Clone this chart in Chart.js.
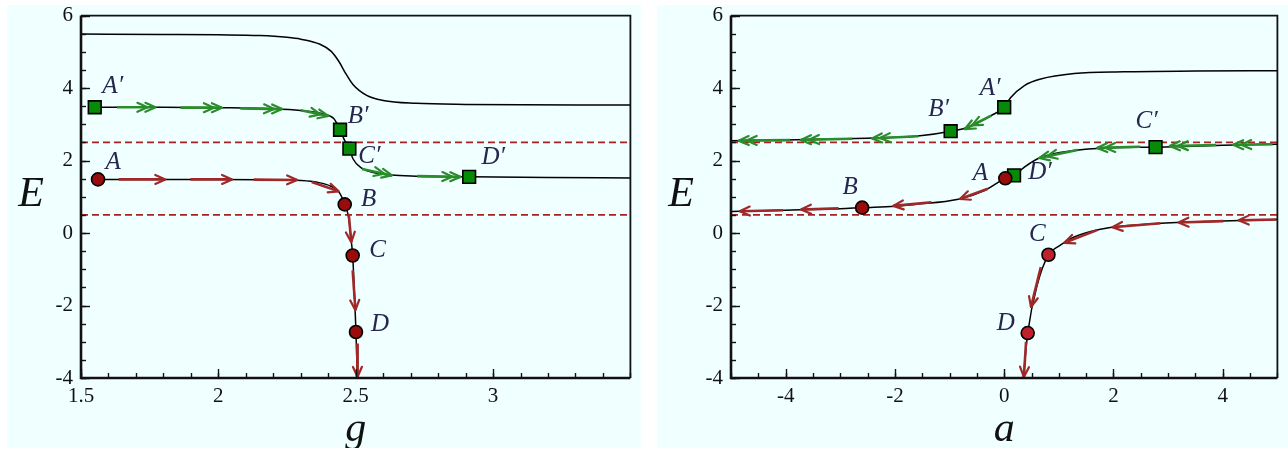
<!DOCTYPE html>
<html>
<head>
<meta charset="utf-8">
<script src="https://cdn.jsdelivr.net/npm/chart.js@4.4.1/dist/chart.umd.min.js"></script>
<style>
  html, body { margin: 0; padding: 0; background: #fff; }
  body { width: 1288px; height: 449px; position: relative; overflow: hidden; }
  .panel { position: absolute; top: 5px; height: 443px; background: #f0ffff; }
  #leftPanel { left: 7px; width: 634px; }
  #rightPanel { left: 657px; width: 631px; }
  canvas { display: block; }
</style>
</head>
<body>
<div class="panel" id="leftPanel"><canvas id="chartG" width="634" height="443"></canvas></div>
<div class="panel" id="rightPanel"><canvas id="chartA" width="631" height="443"></canvas></div>
<script>
// shared
const eRange = [-4, 6];
const eTicks = [-4, -2, 0, 2, 4, 6];
const levels = [2.5, 0.5];
const squareTags = ['A\u2032', 'B\u2032', 'C\u2032', 'D\u2032'];
const circleTags = ['A', 'B', 'C', 'D'];

// left panel: E vs g
const gRange = [1.5, 3.5];
const gTicks = [1.5, 2, 2.5, 3];
const gTop = [[1.5,5.49],[1.8,5.48],[2.0,5.47],[2.15,5.45],[2.25,5.40],[2.3,5.35],[2.37,5.21],[2.41,5.02],[2.44,4.72],[2.46,4.45],[2.49,4.1],[2.54,3.8],[2.6,3.66],[2.72,3.58],[2.9,3.55],[3.5,3.53]];
const gMid = [[1.55,3.47],[1.8,3.47],[2.0,3.46],[2.2,3.43],[2.3,3.38],[2.38,3.29],[2.42,3.16],[2.443,2.85],[2.46,2.55],[2.477,2.33],[2.49,2.05],[2.52,1.80],[2.56,1.68],[2.63,1.60],[2.72,1.57],[2.913,1.55],[3.2,1.53],[3.5,1.52]];
const gLow = [[1.562,1.48],[1.8,1.48],[2.0,1.48],[2.2,1.47],[2.3,1.45],[2.36,1.40],[2.41,1.29],[2.44,1.12],[2.46,0.79],[2.475,0.40],[2.482,-0.1],[2.489,-0.62],[2.495,-1.6],[2.501,-2.73],[2.506,-4.0]];
const gSquares = [[1.55,3.47],[2.443,2.85],[2.477,2.33],[2.913,1.55]];
const gCircles = [[1.562,1.48],[2.46,0.79],[2.489,-0.62],[2.501,-2.73]];
const gGreenArrows = [[1.631,3.47,1.771,3.47],[1.862,3.46,2.013,3.46],[2.080,3.44,2.232,3.42],[2.30,3.39,2.40,3.23],[2.523,1.77,2.632,1.59],[2.724,1.57,2.881,1.55]];
const gRedArrows = [[1.637,1.48,1.807,1.48],[1.898,1.48,2.05,1.48],[2.129,1.475,2.287,1.465],[2.34,1.41,2.438,1.15],[2.4745,0.53,2.484,-0.25],[2.489,-1.03,2.499,-2.13],[2.505,-3.05,2.507,-3.97]];

// right panel: E vs a
const aRange = [-5, 5];
const aTicks = [-4, -2, 0, 2, 4];
const aTop = [[-5,2.55],[-4,2.57],[-3,2.60],[-2,2.64],[-1.5,2.69],[-0.98,2.81],[-0.66,2.92],[-0.24,3.24],[0,3.47],[0.12,3.74],[0.37,4.07],[0.67,4.25],[1.28,4.40],[2.19,4.45],[3.5,4.47],[5,4.48]];
const aMid = [[-5,0.595],[-4,0.63],[-3,0.67],[-2.6,0.70],[-2,0.74],[-1.63,0.79],[-0.84,0.93],[-0.36,1.17],[0.02,1.51],[0.18,1.59],[0.37,1.82],[0.67,2.09],[1.28,2.28],[1.88,2.35],[2.77,2.37],[4.0,2.42],[5,2.45]];
const aLow = [[0.35,-4.0],[0.43,-2.76],[0.61,-1.40],[0.81,-0.6],[1.0,-0.36],[1.28,-0.11],[1.6,0.05],[1.94,0.15],[2.79,0.26],[4.0,0.33],[5,0.375]];
const aSquares = [[0,3.47],[-0.98,2.81],[2.77,2.37],[0.18,1.59]];
const aCircles = [[0.02,1.51],[-2.6,0.70],[0.81,-0.6],[0.43,-2.76]];
const aGreenArrows = [[-0.237,3.24,-0.72,2.87],[-1.57,2.67,-2.42,2.61],[-2.78,2.60,-3.72,2.57],[-3.92,2.565,-4.86,2.55],[4.91,2.45,4.19,2.435],[3.88,2.43,3.03,2.40],[2.49,2.38,1.70,2.35],[1.34,2.29,0.64,2.07]];
const aRedArrows = [[-0.30,1.22,-0.81,0.94],[-1.33,0.85,-2.03,0.75],[-3.03,0.68,-3.72,0.65],[-4.05,0.63,-4.84,0.60],[4.98,0.375,4.29,0.35],[4.01,0.33,3.19,0.29],[2.86,0.27,1.98,0.16],[1.70,0.08,1.10,-0.27],[0.67,-0.94,0.49,-2.04],[0.40,-3.0,0.36,-3.97]];

const GREEN = '#2a8c2a';
const RED = '#a02828';
const SERIF = "'Liberation Serif', 'Times New Roman', serif";
Chart.defaults.font.family = SERIF;
Chart.defaults.color = '#111';

// arrow heads on the last point of arrow datasets (1 = single, 2 = double chevron)
const arrowHeads = {
  id: 'arrowHeads',
  afterDatasetDraw(chart, args) {
    const ds = chart.data.datasets[args.index];
    if (!ds.arrowHead) return;
    const pts = args.meta.data;
    const p = pts[pts.length - 1], q = pts[pts.length - 2];
    const ang = Math.atan2(p.y - q.y, p.x - q.x);
    const ctx = chart.ctx;
    ctx.save();
    ctx.strokeStyle = ds.borderColor;
    ctx.lineWidth = 2.2;
    ctx.lineCap = 'round';
    ctx.lineJoin = 'round';
    for (let k = 0; k < ds.arrowHead; k++) {
      const tx = p.x - Math.cos(ang) * k * 8, ty = p.y - Math.sin(ang) * k * 8;
      ctx.beginPath();
      ctx.moveTo(tx - 11 * Math.cos(ang - 0.42), ty - 11 * Math.sin(ang - 0.42));
      ctx.lineTo(tx, ty);
      ctx.lineTo(tx - 11 * Math.cos(ang + 0.42), ty - 11 * Math.sin(ang + 0.42));
      ctx.stroke();
    }
    ctx.restore();
  }
};

// inward ticks + box frame
const frameTicks = {
  id: 'frameTicks',
  afterDatasetsDraw(chart, args, opts) {
    const {ctx, chartArea: a, scales: {x, y}} = chart;
    ctx.save();
    ctx.strokeStyle = '#111';
    ctx.lineWidth = 1.4;
    const tickX = (v, len) => {
      const px = Math.round(x.getPixelForValue(v)) + 0.5;
      ctx.beginPath(); ctx.moveTo(px, a.bottom); ctx.lineTo(px, a.bottom - len); ctx.stroke();
    };
    const tickY = (v, len) => {
      const py = Math.round(y.getPixelForValue(v)) + 0.5;
      ctx.beginPath(); ctx.moveTo(a.left, py); ctx.lineTo(a.left + len, py); ctx.stroke();
    };
    const nx = Math.round((x.max - x.min) / opts.xMinor);
    for (let i = 0; i <= nx; i++) tickX(x.min + i * opts.xMinor, 5);
    const ny = Math.round((y.max - y.min) / opts.yMinor);
    for (let i = 0; i <= ny; i++) tickY(y.min + i * opts.yMinor, 5);
    x.ticks.forEach(t => tickX(t.value, 9));
    y.ticks.forEach(t => tickY(t.value, 9));
    ctx.lineWidth = 1.8;
    ctx.beginPath();
    ctx.moveTo(a.left, a.top); ctx.lineTo(a.right, a.top); ctx.lineTo(a.right, a.bottom);
    ctx.stroke();
    ctx.lineWidth = 2.6;
    ctx.beginPath();
    ctx.moveTo(a.left, a.top); ctx.lineTo(a.left, a.bottom); ctx.lineTo(a.right, a.bottom);
    ctx.stroke();
    ctx.restore();
  }
};

// point tags and axis titles
const tagsAndTitles = {
  id: 'tagsAndTitles',
  afterDraw(chart, args, opts) {
    const {ctx, chartArea: a} = chart;
    ctx.save();
    ctx.textAlign = 'center';
    ctx.textBaseline = 'middle';
    ctx.fillStyle = '#26264e';
    ctx.font = 'italic 25px ' + SERIF;
    chart.data.datasets.forEach((ds, i) => {
      if (!ds.tags) return;
      chart.getDatasetMeta(i).data.forEach((pt, j) => {
        const off = ds.tagOffsets[j];
        ctx.fillText(ds.tags[j], pt.x + off[0], pt.y + off[1]);
      });
    });
    ctx.fillStyle = '#111';
    ctx.textBaseline = 'alphabetic';
    ctx.font = 'italic 42px ' + SERIF;
    ctx.fillText(opts.xTitle, (a.left + a.right) / 2, a.bottom + 63);
    ctx.fillText(opts.yTitle, a.left - 50, (a.top + a.bottom) / 2 + 9);
    ctx.restore();
  }
};

const xy = pts => pts.map(([x, y]) => ({x, y}));
const asTicks = vals => vals.map(value => ({value}));

function buildChart(id, o) {
  const datasets = [];
  const line = (pts, extra) => Object.assign({data: xy(pts), showLine: true, pointRadius: 0, pointHoverRadius: 0, tension: 0}, extra);
  levels.forEach(E => datasets.push(line([[o.range[0], E], [o.range[1], E]], {borderColor: '#a82222', borderWidth: 1.8, borderDash: [7, 4], order: 4})));
  o.curves.forEach(c => datasets.push(line(c, {borderColor: '#000', borderWidth: 1.5, cubicInterpolationMode: 'monotone', order: 3})));
  o.green.forEach(r => datasets.push(line([[r[0], r[1]], [r[2], r[3]]], {borderColor: GREEN, borderWidth: 2.6, arrowHead: 2, order: 2})));
  o.red.forEach(r => datasets.push(line([[r[0], r[1]], [r[2], r[3]]], {borderColor: RED, borderWidth: 2.6, arrowHead: 1, order: 2})));
  datasets.push({data: xy(o.squares), pointStyle: 'rect', pointRadius: 9, backgroundColor: '#078a07', borderColor: '#000', borderWidth: 1.6, tags: squareTags, tagOffsets: o.squareOffsets, order: 1});
  datasets.push({data: xy(o.circles), pointStyle: 'circle', pointRadius: 6.5, backgroundColor: o.circleFill, borderColor: '#000', borderWidth: 1.6, tags: circleTags, tagOffsets: o.circleOffsets, order: 0});

  return new Chart(document.getElementById(id), {
    type: 'scatter',
    data: {datasets},
    options: {
      responsive: false,
      animation: false,
      events: [],
      layout: {padding: {top: 10, right: o.padRight, left: 0, bottom: 0}},
      plugins: {
        legend: {display: false},
        tooltip: {enabled: false},
        frameTicks: {xMinor: o.xMinor, yMinor: 0.5},
        tagsAndTitles: {xTitle: o.xTitle, yTitle: 'E'}
      },
      scales: {
        x: {
          type: 'linear', min: o.range[0], max: o.range[1],
          grid: {display: false, drawTicks: false}, border: {display: false},
          ticks: {padding: 6, maxRotation: 0, autoSkip: false, font: {size: 21}, callback: v => String(v)},
          afterBuildTicks: s => { s.ticks = asTicks(o.ticks); },
          afterFit: s => { s.height = 70; s.paddingLeft = 0; s.paddingRight = 0; }
        },
        y: {
          min: eRange[0], max: eRange[1],
          grid: {display: false, drawTicks: false}, border: {display: false},
          ticks: {padding: 8, font: {size: 21}, callback: v => String(v)},
          afterBuildTicks: s => { s.ticks = asTicks(eTicks); },
          afterFit: s => { s.width = 74; s.paddingTop = 0; s.paddingBottom = 0; }
        }
      }
    },
    plugins: [arrowHeads, frameTicks, tagsAndTitles]
  });
}

buildChart('chartG', {
  range: gRange, ticks: gTicks, xMinor: 0.1, xTitle: 'g', padRight: 9,
  curves: [gTop, gMid, gLow], green: gGreenArrows, red: gRedArrows,
  squares: gSquares, circles: gCircles,
  circleFill: ['#9a0c0c', '#9a0c0c', '#9a0c0c', '#9a0c0c'],
  squareOffsets: [[18, -21], [18, -13], [20, 8], [24, -19]],
  circleOffsets: [[15, -17], [24, -5], [25, -5], [24, -8]]
});

buildChart('chartA', {
  range: aRange, ticks: aTicks, xMinor: 0.5, xTitle: 'a', padRight: 6,
  curves: [aTop, aMid, aLow], green: aGreenArrows, red: aRedArrows,
  squares: aSquares, circles: aCircles,
  circleFill: ['#9a0c0c', '#9a0c0c', '#c0202c', '#c0202c'],
  squareOffsets: [[-14, -19], [-12, -22], [-9, -26], [26, -3]],
  circleOffsets: [[-25, -5], [-12, -20], [-11, -20], [-22, -10]]
});
</script>
</body>
</html>
